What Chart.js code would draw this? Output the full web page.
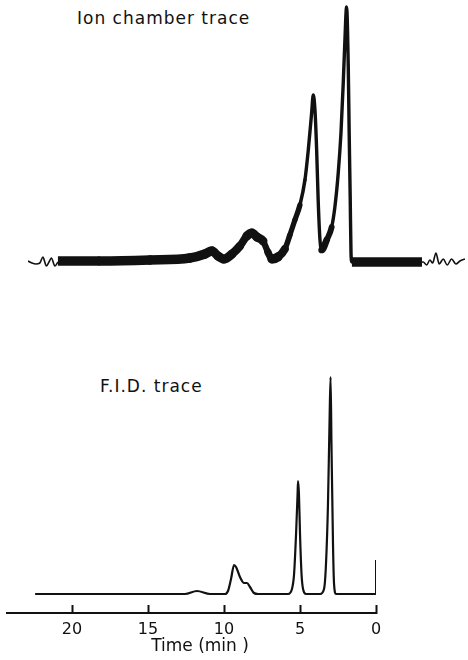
<!DOCTYPE html>
<html>
<head>
<meta charset="utf-8">
<script src="https://cdn.jsdelivr.net/npm/chart.js@4.4.0/dist/chart.umd.min.js"></script>
<style>
  body { margin: 0; background: #fff; width: 468px; height: 660px; position: relative; overflow: hidden; font-family: "DejaVu Sans", sans-serif; }
  canvas { position: absolute; left: 0; }
  #ion { top: 0; }
  #fid { top: 340px; }
  .lbl { position: absolute; font-size: 17px; line-height: 1; letter-spacing: 1px; color: #111; white-space: nowrap; }
</style>
</head>
<body>
<div class="lbl" style="left:77px;top:10px">Ion chamber trace</div>
<div class="lbl" style="left:100px;top:378px">F.I.D. trace</div>
<canvas id="ion" width="468" height="272"></canvas>
<canvas id="fid" width="468" height="320"></canvas>
<script>
"use strict";
// time in minutes (axis runs right to left), signal in arbitrary units above baseline

// ion chamber trace - thin wiggle before the noisy part
var ionLeadTime   = [22.89, 22.63, 22.37, 22.11, 21.91, 21.68, 21.51, 21.35, 21.12, 20.92];
var ionLeadSignal = [1, -1, -2, -1, 5, -4, 0, 4, -4, 0];

// ion chamber trace - noisy band with the peaks
var ionTime   = [20.92, 18.16, 14.87, 12.24, 11.25, 10.79, 10.39, 10.0, 9.47, 8.95, 8.49, 8.16, 7.83, 7.43, 7.11, 6.84, 6.45, 5.99, 5.66, 5.33, 5.0,
                 4.67, 4.45, 4.23, 4.125, 4.01, 3.90, 3.80, 3.68, 3.57, 3.24, 2.91, 2.70, 2.48, 2.30, 2.15, 2.04, 1.93, 1.82, 1.76, 1.69, 1.64, 1.58, -3.03];
var ionSignal = [1, 1, 2, 4, 8, 11, 6, 3, 8, 16, 26, 29, 25, 21, 10, 3, 5, 13, 27, 42, 57,
                 82, 112, 149, 167, 152, 112, 62, 22, 12, 22, 35, 55, 89, 129, 179, 222, 255, 195, 129, 62, 9, 0, 0];

// ion chamber trace - thin wiggle after the noisy part
var ionTrailTime   = [-3.03, -3.11, -3.34, -3.55, -3.73, -3.95, -4.16, -4.43, -4.69, -4.98, -5.26, -5.53, -5.86];
var ionTrailSignal = [0, 0, -3, 2, -1, 9, -2, 3, -3, 3, -2, 1, 3];

// F.I.D. trace
var fidTime   = [22.43, 12.57, 11.78, 10.92, 9.93, 9.74, 9.54, 9.34, 9.21, 8.95, 8.68, 8.49, 8.29, 8.03, 7.76,
                 5.79, 5.53, 5.39, 5.26, 5.16, 5.13, 5.07, 5.0, 4.9, 4.80, 4.6,
                 3.68, 3.42, 3.29, 3.16, 3.06, 2.99, 2.93, 2.83, 2.76, 2.63, 0];
var fidSignal = [0, 0, 3, 0, 0, 3, 15, 29, 27, 17, 11, 11, 7, 1, 0,
                 0, 5, 20, 60, 100, 113, 100, 60, 20, 5, 0,
                 0, 5, 30, 90, 170, 217, 150, 50, 10, 0, 0];

// injection marker at time zero
var markTime   = [0, 0];
var markSignal = [0, 34];

var timeTicks = [0, 5, 10, 15, 20];
var ink = "#111";

function pts(xs, ys) {
    return xs.map(function (x, i) { return { x: x, y: ys[i] }; });
}

function trace(xs, ys, width) {
    return {
        data: pts(xs, ys),
        borderColor: ink,
        borderWidth: width,
        pointRadius: 0,
        cubicInterpolationMode: "monotone",
        fill: false
    };
}

// noisy band: thick where the trace is flat, thin on steep flanks
var band = trace(ionTime, ionSignal, 9);
band.borderJoinStyle = "round";
band.segment = {
    borderWidth: function (c) {
        var dx = c.p1.x - c.p0.x, dy = c.p1.y - c.p0.y;
        return Math.max(3.4, 9.5 / Math.hypot(1, dy / dx / 2));
    },
    borderCapStyle: function (c) {
        // blunt ends, rounded joints in between
        return (c.p0DataIndex === 0 || c.p1DataIndex === ionTime.length - 1) ? "butt" : "round";
    }
};

new Chart(document.getElementById("ion"), {
    type: "line",
    data: {
        datasets: [
            trace(ionLeadTime, ionLeadSignal, 1.6),
            band,
            trace(ionTrailTime, ionTrailSignal, 1.6)
        ]
    },
    options: {
        responsive: false,
        animation: false,
        layout: { padding: { left: 28, right: 3, top: 2, bottom: 0 } },
        plugins: { legend: { display: false }, tooltip: { enabled: false } },
        scales: {
            x: { type: "linear", reverse: true, min: -5.86, max: 22.89, display: false },
            y: { min: -10, max: 260, display: false }
        }
    }
});

var tickFont = { family: "DejaVu Sans", size: 16 };
var titleFont = { family: "DejaVu Sans", size: 17 };
var marker = trace(markTime, markSignal, 2);
marker.cubicInterpolationMode = "default";
marker.tension = 0;

new Chart(document.getElementById("fid"), {
    type: "line",
    data: {
        datasets: [ trace(fidTime, fidSignal, 2.2), marker ]
    },
    options: {
        responsive: false,
        animation: false,
        layout: { padding: { left: 7, right: 92, top: 33, bottom: 0 } },
        plugins: { legend: { display: false }, tooltip: { enabled: false } },
        scales: {
            x: {
                type: "linear",
                reverse: true,
                min: 0,
                max: 24.28,
                afterBuildTicks: function (s) {
                    s.ticks = timeTicks.map(function (v) { return { value: v }; });
                },
                afterFit: function (s) { s.height = 47; },
                border: { display: true, color: ink, width: 2 },
                grid: { drawOnChartArea: false, drawTicks: true, tickLength: -8, tickWidth: 2, tickColor: ink },
                ticks: { color: ink, font: tickFont, padding: 15, maxRotation: 0, autoSkip: false },
                // leading en spaces nudge the centred title right, as in the original
                title: { display: true, text: "\u2002\u2002Time (min )", color: ink, font: titleFont, padding: { top: 0, bottom: 3 } }
            },
            y: { min: -19, max: 221, display: false }
        }
    }
});
</script>
</body>
</html>
